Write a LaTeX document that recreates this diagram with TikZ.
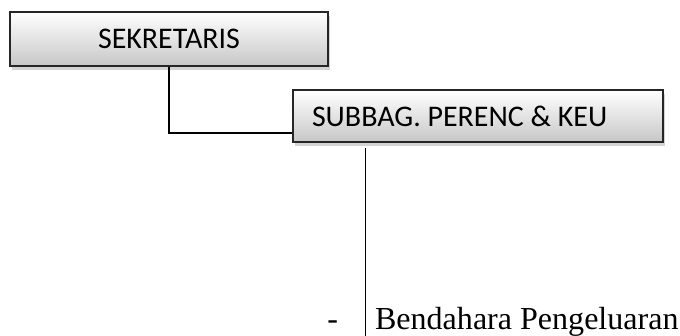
\documentclass[tikz,border=0pt]{standalone}
\usepackage{fontspec}
\setmainfont{Liberation Serif}
\newfontfamily\boxfont{Carlito}
\usetikzlibrary{shadows}
\tikzset{
  jabatan/.style={draw=black!85, line width=1pt, top color=white, bottom color=black!22,
    drop shadow={opacity=0.35, shadow xshift=0.04cm, shadow yshift=-0.1cm},
    font=\boxfont\fontsize{21.3}{25}\selectfont, inner sep=0pt},
  garis/.style={line width=1pt}
}
\begin{document}
\begin{tikzpicture}
    \useasboundingbox (0,0) rectangle (17,8.4);
    %kotak jabatan
    \node[jabatan, minimum width=7.95cm, minimum height=1.35cm] (sekretaris) at (4.225,7.425) {SEKRETARIS};
    \node[jabatan, minimum width=9.25cm, minimum height=1.3cm] (subbag) at (11.95,5.5) {\makebox[8.3cm][l]{SUBBAG. PERENC \& KEU}};
    %garis penghubung
    \coordinate (siku) at (4.225,5.075);
    \draw[garis] (sekretaris.south) -- (siku) -- (siku -| subbag.west);
    \coordinate (atas) at (9.13,4.7);
    \coordinate (bawah) at (9.13,0);
    \draw[garis] (atas) -- (bawah);
    %bendahara
    \node[anchor=base west, inner sep=0pt, font=\fontsize{22.8}{26}\selectfont] (bendahara) at (9.37,0.15) {Bendahara Pengeluaran};
    \node[anchor=base, inner sep=0pt, font=\fontsize{22.8}{26}\selectfont] (strip) at (8.32,0.15) {-};
  \end{tikzpicture}
\end{document}
